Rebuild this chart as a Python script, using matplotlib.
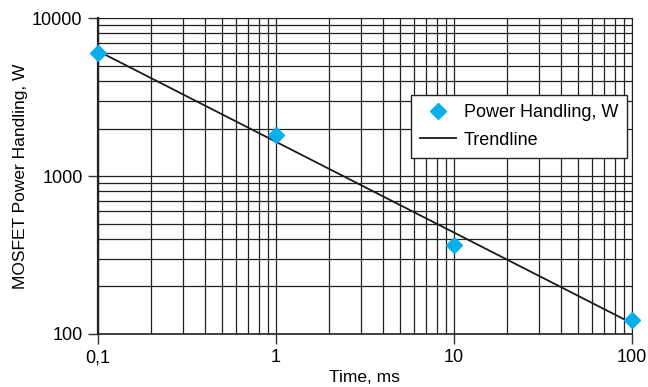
import matplotlib
matplotlib.use('Agg')
from matplotlib import pyplot as plt
from matplotlib.ticker import FixedLocator, FixedFormatter, LogLocator, NullFormatter

plt.rcParams['font.family'] = ['Liberation Sans', 'DejaVu Sans']

# data
time_ms = [0.1, 1, 10, 100]
power_w = [6000, 1820, 366, 123]
trend_x = [0.1, 100]
trend_y = [6200, 117]

x_ticks = [0.1, 1, 10, 100]
x_labels = ['0,1', '1', '10', '100']
y_ticks = [100, 1000, 10000]
y_labels = ['100', '1000', '10000']

fig = plt.figure(figsize=(6.48, 3.87), dpi=100)
ax = fig.add_axes([0.151, 0.137, 0.824, 0.816])

ax.set_xscale('log')
ax.set_yscale('log')
ax.set_xlim(0.1, 100)
ax.set_ylim(100, 10000)

ax.plot(time_ms, power_w, linestyle='none', marker='D', markersize=8,
        color='#0aaee8', label='Power Handling, W', zorder=4, clip_on=False)
ax.plot(trend_x, trend_y, color='#1a1a1a', lw=1.3, label='Trendline', zorder=3)

ax.xaxis.set_major_locator(FixedLocator(x_ticks))
ax.xaxis.set_major_formatter(FixedFormatter(x_labels))
ax.yaxis.set_major_locator(FixedLocator(y_ticks))
ax.yaxis.set_major_formatter(FixedFormatter(y_labels))
ax.xaxis.set_minor_locator(LogLocator(base=10, subs=range(2, 10)))
ax.yaxis.set_minor_locator(LogLocator(base=10, subs=range(2, 10)))
ax.xaxis.set_minor_formatter(NullFormatter())
ax.yaxis.set_minor_formatter(NullFormatter())

ax.grid(True, which='both', color='#222222', lw=0.9)
ax.tick_params(which='minor', length=0)
ax.tick_params(which='major', length=7, width=1, color='#333333',
               labelsize=13, pad=4)
for s in ax.spines.values():
    s.set_color('#222222')
ax.spines['left'].set_linewidth(1.6)
ax.spines['bottom'].set_linewidth(1.2)

ax.set_xlabel('Time, ms', fontsize=12.5, labelpad=3)
ax.set_ylabel('MOSFET Power Handling, W', fontsize=12.5, labelpad=3)

leg = ax.legend(loc='upper right', bbox_to_anchor=(1.008, 0.786), fontsize=13,
                frameon=True, fancybox=False, edgecolor='#222222',
                framealpha=1, borderpad=0.5, handlelength=2.0,
                handletextpad=0.4, labelspacing=0.6)
leg.get_frame().set_linewidth(1)

fig.savefig('out.png', dpi=100)
